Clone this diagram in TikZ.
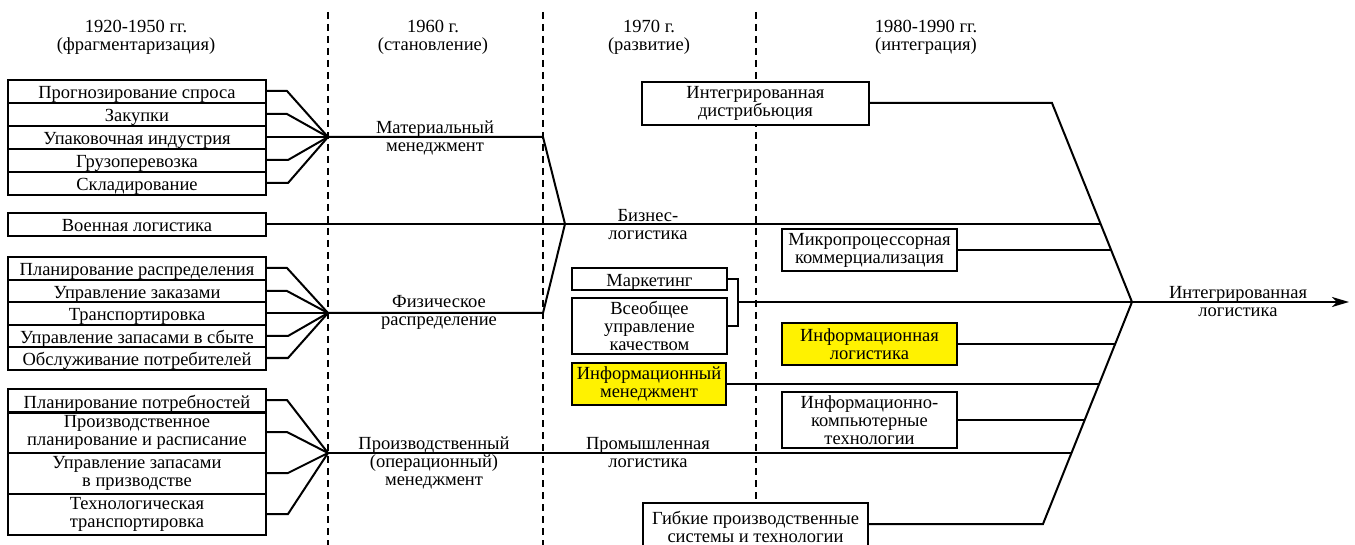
\documentclass[tikz,border=0pt]{standalone}
\usepackage{fontspec}
\setmainfont{Liberation Serif}
\usetikzlibrary{arrows.meta}
\begin{document}
\begin{tikzpicture}[x=1pt,y=-1pt,
  font=\fontsize{18.5}{18}\selectfont,
  box/.style={draw, line width=2pt, inner sep=0pt, align=center, fill=white},
  ybox/.style={box, fill=yellow},
  row/.style={box, minimum width=258pt},
  one/.style={text height=17pt, text depth=2pt},
  ln/.style={line width=2pt},
  dsh/.style={line width=2pt, dash pattern=on 7pt off 5pt},
  lbl/.style={align=center, inner sep=0pt},
  hdr/.style={lbl}]
\useasboundingbox (0,0) rectangle (1355,545);
\clip (0,0) rectangle (1355,545);
\fill[white] (0,0) rectangle (1355,545);

% dashed period separators
\draw[dsh] (328,12) -- (328,545);
\draw[dsh] (543,12) -- (543,545);
\draw[dsh] (756,12) -- (756,503);

% headers
\node[hdr] (h1) at (136,37) {1920-1950 гг.\\(фрагментаризация)};
\node[hdr] (h2) at (433,37) {1960 г.\\(становление)};
\node[hdr] (h3) at (649,37) {1970 г.\\(развитие)};
\node[hdr] (h4) at (926,37) {1980-1990 гг.\\(интеграция)};

% group 1
\node[row, one, minimum height=23pt] (a1) at (137,91.5) {Прогнозирование спроса};
\node[row, one, minimum height=23pt] (a2) at (137,114.5) {Закупки};
\node[row, one, minimum height=23pt] (a3) at (137,137.5) {Упаковочная индустрия};
\node[row, one, minimum height=23pt] (a4) at (137,160.5) {Грузоперевозка};
\node[row, one, minimum height=23pt] (a5) at (137,183.5) {Складирование};
\node[row, one, minimum height=23pt] (mil) at (137,224.5) {Военная логистика};
% group 2
\node[row, one, minimum height=23pt] (p1) at (137,268.5) {Планирование распределения};
\node[row, one, minimum height=22pt] (p2) at (137,291) {Управление заказами};
\node[row, one, minimum height=23pt] (p3) at (137,313.5) {Транспортировка};
\node[row, one, minimum height=22pt] (p4) at (137,336) {Управление запасами в сбыте};
\node[row, one, minimum height=23pt] (p5) at (137,358.5) {Обслуживание потребителей};
% group 3
\node[row, one, minimum height=23pt] (b1) at (137,400.5) {Планирование потребностей};
\node[row, minimum height=40pt] (b2) at (137,432.5) {Производственное\\планирование и расписание};
\node[row, minimum height=42pt] (b3) at (137,473.5) {Управление запасами\\в призводстве};
\node[row, minimum height=41pt] (b4) at (137,514.5) {Технологическая\\транспортировка};

\coordinate (m1) at (328,137);
\coordinate (m2) at (328,313);
\coordinate (m3) at (328,453);
\coordinate (k1) at (543,137);
\coordinate (k2) at (565,224);
\coordinate (k3) at (543,313);

\draw[ln] ([yshift=0.5pt]a1.east) -- ++(20,0) -- (m1);
\draw[ln] ([yshift=0.5pt]a2.east) -- ++(20,0) -- (m1);
\draw[ln] ([yshift=0.5pt]a3.east) -- (m1);
\draw[ln] ([yshift=0.5pt]a4.east) -- ++(21,0) -- (m1);
\draw[ln] ([yshift=0.5pt]a5.east) -- ++(21,0) -- (m1);
\draw[ln] ([yshift=0.5pt]p1.east) -- ++(20,0) -- (m2);
\draw[ln] (p2.east) -- ++(20,0) -- (m2);
\draw[ln] ([yshift=0.5pt]p3.east) -- (m2);
\draw[ln] (p4.east) -- ++(21,0) -- (m2);
\draw[ln] ([yshift=0.5pt]p5.east) -- ++(21,0) -- (m2);
\draw[ln] ([yshift=0.5pt]b1.east) -- ++(20,0) -- (m3);
\draw[ln] ([yshift=0.5pt]b2.east) -- ++(20,0) -- (m3);
\draw[ln] ([yshift=0.5pt]b3.east) -- ++(21,0) -- (m3);
\draw[ln] ([yshift=0.5pt]b4.east) -- ++(21,0) -- (m3);

\draw[ln, line join=miter] (m1) -- (k1) -- (k2) -- (k3) -- (m2);

% free labels
\node[lbl] (lm) at (435,137.5) {Материальный\\менеджмент};
\node[lbl] (lf) at (439,312) {Физическое\\распределение};
\node[lbl] (lp) at (434,462.5) {Производственный\\(операционный)\\менеджмент};
\node[lbl] (lb) at (648,225) {Бизнес-\\логистика};
\node[lbl] (lpr) at (648,453) {Промышленная\\логистика};
\node[lbl] (li) at (1238,302) {Интегрированная\\логистика};

% right side boxes
\node[box, minimum width=227pt, minimum height=43pt] (dist) at (755.5,103.5) {Интегрированная\\дистрибьюция};
\node[box, minimum width=225pt, minimum height=48pt] (flex) at (755.5,527) {Гибкие производственные\\системы и технологии};
\node[box, minimum width=175pt, minimum height=42pt] (micro) at (869.5,250) {Микропроцессорная\\коммерциализация};
\node[box, one, minimum width=155pt, minimum height=22pt] (mk) at (649.5,279) {Маркетинг};
\node[box, minimum width=155pt, minimum height=56pt] (q) at (649.5,326) {Всеобщее\\управление\\качеством};
\node[ybox, minimum width=175pt, minimum height=42pt] (il) at (869.5,344) {Информационная\\логистика};
\node[ybox, minimum width=154pt, minimum height=42pt] (im) at (649,384) {Информационный\\менеджмент};
\node[box, minimum width=175pt, minimum height=56pt] (ict) at (869.5,420) {Информационно-\\компьютерные\\технологии};

\coordinate (t1) at (1052,103);
\coordinate (c) at (1132,302);
\coordinate (t2) at (1043,524);
\coordinate (br) at (737,302);
\coordinate (e) at (1349,302);
\coordinate (u1) at (1100.6,224);
\coordinate (u2) at (1111.1,250);
\coordinate (d1) at (1115.2,344);
\coordinate (d2) at (1099.1,384);
\coordinate (d3) at (1084.7,420);
\coordinate (d4) at (1071.5,453);

\draw[ln, line join=miter] ([yshift=0.5pt]dist.east) -- (t1) -- (c) -- (t2) -- (flex.east |- t2);
\draw[ln] ([yshift=0.5pt]mil.east) -- (u1);
\draw[ln] (micro.east) -- (u2);
\draw[ln] (mk.east) -- ++(10,0) |- (q.east);
\draw[ln] (br) -- (c);
\draw[ln] (il.east) -- (d1);
\draw[ln] (im.east) -- (d2);
\draw[ln] (ict.east) -- (d3);
\draw[ln] (m3) -- (d4);
\draw[ln, -{Stealth[length=17pt,width=10pt,inset=5pt]}] (c) -- (e);
\end{tikzpicture}
\end{document}
